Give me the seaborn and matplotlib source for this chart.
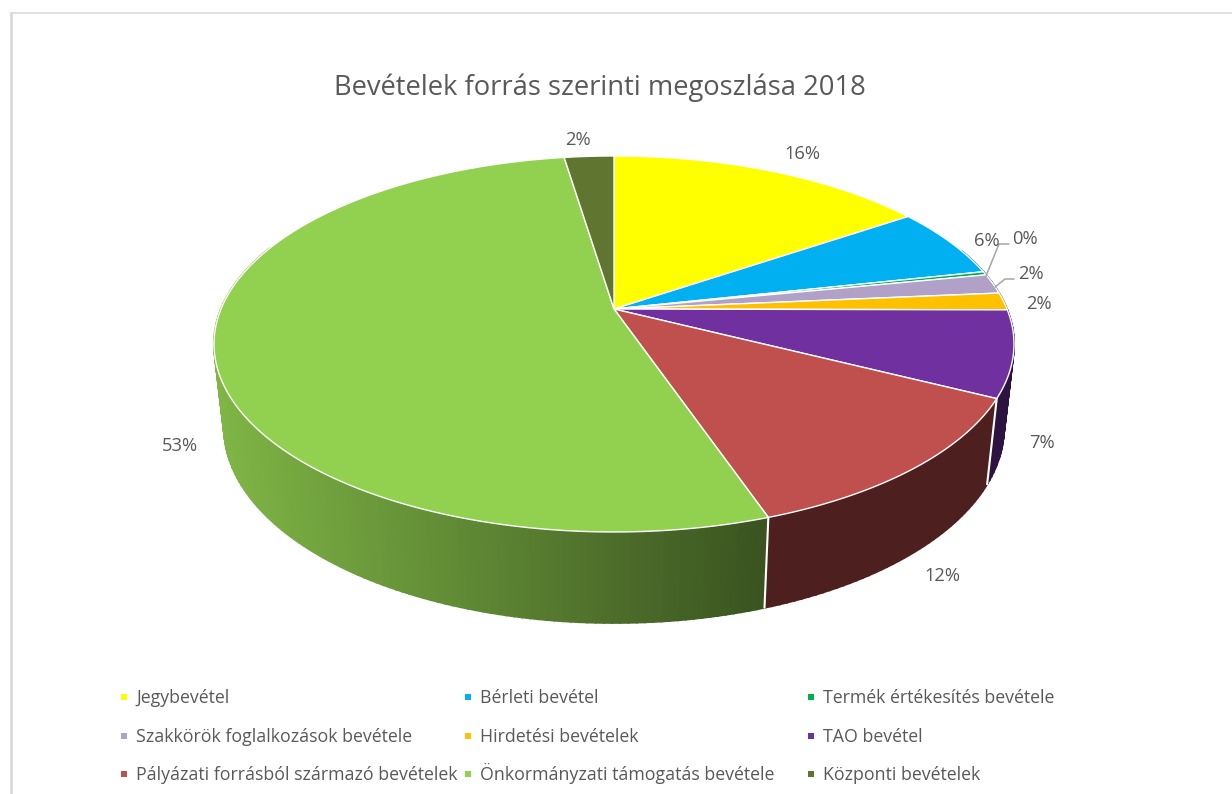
import numpy as np
import matplotlib
matplotlib.use('Agg')
import matplotlib.pyplot as plt
import seaborn as sns

title = 'Bevételek forrás szerinti megoszlása 2018'
categories = ['Jegybevétel', 'Bérleti bevétel', 'Termék értékesítés bevétele',
              'Szakkörök foglalkozások bevétele', 'Hirdetési bevételek', 'TAO bevétel',
              'Pályázati forrásból származó bevételek', 'Önkormányzati támogatás bevétele',
              'Központi bevételek']
values = [15.5, 6.1, 0.3, 1.7, 1.5, 7.4, 12.3, 52.9, 2.4]
colors = ['#FFFF00', '#00B0F0', '#00B050', '#B1A0C7', '#FFC000', '#7030A0',
          '#C0504D', '#92D050', '#5F7530']

sns.set_style('white')
plt.rcParams['font.family'] = ['Open Sans', 'DejaVu Sans']
palette = sns.color_palette(colors)
text_color = '#595959'

# pie geometry, in pixels of the picture
cx, cy = 614, 309
rx, ry, persp = 393, 181.5, 0.186
wall_sx, wall_sy, wall_cy = 0.975, 1.04, 391


def project(theta):
    # theta is clockwise from the top, perspective squeezes the far side
    u, v = np.sin(theta), np.cos(theta)
    d = 1 + persp * v
    return rx * u / d, -ry * v / d


def top_xy(theta):
    x, y = project(theta)
    return cx + x, cy + y


def bottom_xy(theta):
    x, y = project(theta)
    return cx + wall_sx * x, wall_cy + wall_sy * y


def shade(color, theta):
    # sides go darker from left to right
    x, _ = project(theta)
    f = max(0.40, 0.87 - (x + 400) / 550 * 0.47)
    return tuple(c * f for c in color)


fig = plt.figure(figsize=(12.32, 7.94), dpi=100)
ax = fig.add_axes([0, 0, 1, 1])
ax.set_xlim(0, 1232)
ax.set_ylim(794, 0)
ax.axis('off')

# frame of the pasted chart
ax.plot([11, 11], [794, 13], color='#D9D9D9', lw=2)
ax.plot([11, 1232], [13, 13], color='#D9D9D9', lw=1.2)

edges = np.cumsum([0] + values) / sum(values) * 2 * np.pi

# side wall first, the top covers whatever is behind it
for i, color in enumerate(palette):
    t = np.linspace(edges[i], edges[i + 1], max(3, int(np.degrees(edges[i + 1] - edges[i]))))
    for a, b in zip(t[:-1], t[1:]):
        if np.cos((a + b) / 2) > 0.35:
            continue
        xa, ya = top_xy(a)
        xb, yb = top_xy(b)
        xc, yc = bottom_xy(b)
        xd, yd = bottom_xy(a)
        c = shade(color, (a + b) / 2)
        ax.fill([xa, xb, xc, xd], [ya, yb, yc, yd], color=c, lw=1.4, zorder=2)

# white lines between the side pieces
for e in edges[6:8]:
    xa, ya = top_xy(e)
    xb, yb = bottom_xy(e)
    ax.plot([xa, xb], [ya, yb], color='white', lw=1.5, zorder=3)

# top of the pie
for i, color in enumerate(palette):
    t = np.linspace(edges[i], edges[i + 1], max(3, int(np.degrees(edges[i + 1] - edges[i])) * 2))
    x, y = top_xy(t)
    ax.fill(np.r_[cx, x], np.r_[cy, y], facecolor=color, edgecolor='white', lw=1.0,
            joinstyle='round', zorder=4)

# data labels
label_pos = [(802, 154), (987, 241), (1025, 239), (1031, 274), (1039, 304),
             (1042, 443), (942, 576), (180, 446), (578, 140)]
for v, (x, y) in zip(values, label_pos):
    ax.text(x, y, f'{v:.0f}%', color=text_color, fontsize=13.2, ha='center', va='center', zorder=6)

# leader lines
ax.plot([986, 999, 1009], [276, 244, 244], color='#A6A6A6', lw=1.1, zorder=5)
ax.plot([995, 1005, 1014], [287, 279, 279], color='#A6A6A6', lw=1.1, zorder=5)

ax.text(600, 88, title, color=text_color, fontsize=19.7, ha='center', va='center')

# legend, three rows of three
legend_x = [124, 468, 811]
legend_y = [697, 735.5, 773.5]
for i, name in enumerate(categories):
    x, y = legend_x[i % 3], legend_y[i // 3]
    ax.scatter([x], [y], marker='s', s=22, color=palette[i], linewidths=0)
    ax.text(x + 12, y + 6, name, color=text_color, fontsize=12.75, ha='left', va='baseline')

fig.savefig('out.png', dpi=100)
